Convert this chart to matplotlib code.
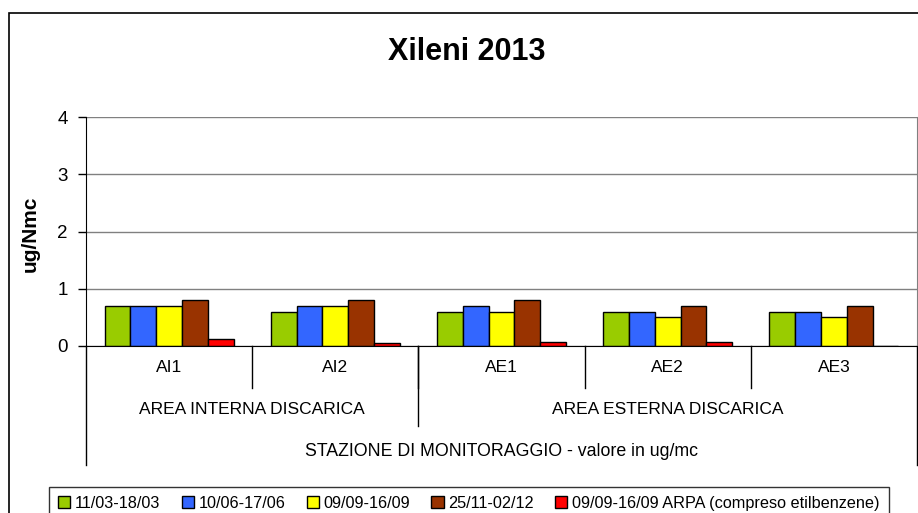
import numpy as np
import matplotlib
matplotlib.use("Agg")
import matplotlib.pyplot as plt
from matplotlib.patches import Rectangle, Patch
from matplotlib.transforms import blended_transform_factory

plt.rcParams['font.family'] = ['Liberation Sans', 'DejaVu Sans']

######################## DATA ########################
stations = ["AI1", "AI2", "AE1", "AE2", "AE3"]
areas = ["AREA INTERNA DISCARICA", "AREA ESTERNA DISCARICA"]
area_span = [(0, 1), (2, 4)]
outer_label = "STAZIONE DI MONITORAGGIO - valore in ug/mc"
series_labels = ["11/03-18/03", "10/06-17/06", "09/09-16/09", "25/11-02/12",
                 "09/09-16/09 ARPA (compreso etilbenzene)"]
series_colors = ["#99CC00", "#3366FF", "#FFFF00", "#993300", "#FF0000"]
v_mar = [0.7, 0.6, 0.6, 0.6, 0.6]
v_jun = [0.7, 0.7, 0.7, 0.6, 0.6]
v_sep = [0.7, 0.7, 0.6, 0.5, 0.5]
v_nov = [0.8, 0.8, 0.8, 0.7, 0.7]
v_arpa = [0.12, 0.05, 0.07, 0.07, 0.0]
yticks = [0, 1, 2, 3, 4]
title = "Xileni 2013"
ylabel = "ug/Nmc"
######################################################

W, H = 918, 513
fig = plt.figure(figsize=(W / 100, H / 100), dpi=100)

def fx(px):
    return px / W

def fy(py):
    return 1 - py / H

# outer chart border (runs off right and bottom)
fig.patches.append(Rectangle((fx(9), fy(540)), fx(930), fy(13) - fy(540),
                             transform=fig.transFigure, fill=False,
                             edgecolor="black", linewidth=1.2))

ax = fig.add_axes([fx(86), fy(346), fx(917) - fx(86), fy(117) - fy(346)])

series = [v_mar, v_jun, v_sep, v_nov, v_arpa]
x = np.arange(len(stations))
bw = 0.155
for i, vals in enumerate(series):
    ax.bar(x + (i - 2) * bw, vals, width=bw, color=series_colors[i],
           edgecolor="black", linewidth=1.0, zorder=3)

ax.set_xlim(-0.5, len(stations) - 0.5)
ax.set_ylim(0, 4)
ax.set_yticks(yticks)
ax.set_yticklabels([str(t) for t in yticks], fontsize=13.5)
ax.tick_params(axis="y", direction="out", length=6, width=1, pad=7)
ax.set_xticks([])
ax.grid(axis="y", color="#808080", linewidth=1.0, zorder=0)
ax.spines["top"].set_visible(False)
ax.spines["right"].set_color("#808080")
ax.spines["left"].set_color("black")
ax.spines["bottom"].set_color("black")
ax.spines["bottom"].set_zorder(4)

fig.text(fx(30), fy(234), ylabel, fontsize=15, fontweight="bold",
         rotation=90, ha="center", va="center")
fig.text(fx(467), fy(52), title, fontsize=22, fontweight="bold",
         ha="center", va="center")

# multi-level category axis
tr = blended_transform_factory(ax.transData, fig.transFigure)
lk = dict(color="black", linewidth=1.0, transform=tr, clip_on=False)
for b in np.arange(0.5, len(stations) - 0.5):
    ax.plot([b, b], [fy(346), fy(388)], **lk)
ax.plot([1.5, 1.5], [fy(346), fy(426)], **lk)
for b in [-0.5, len(stations) - 0.5]:
    ax.plot([b, b], [fy(346), fy(465)], **lk)

for i, s in enumerate(stations):
    ax.text(i, fy(367), s, transform=tr, ha="center", va="center", fontsize=12.5)
for a, (lo, hi) in zip(areas, area_span):
    ax.text((lo + hi) / 2, fy(409), a, transform=tr, ha="center",
            va="center", fontsize=12.5)
ax.text((len(stations) - 1) / 2, fy(452), outer_label, transform=tr,
        ha="center", va="center", fontsize=12.8)

handles = [Patch(facecolor=c, edgecolor="black", linewidth=1.0) for c in series_colors]
leg = fig.legend(handles, series_labels, ncol=5, loc="upper left",
                 bbox_to_anchor=(fx(49), fy(487)), frameon=True, fancybox=False,
                 edgecolor="black", handlelength=0.75, handleheight=0.75,
                 handletextpad=0.3, columnspacing=1.3, borderaxespad=0,
                 borderpad=0.55, fontsize=11.7)
leg.get_frame().set_linewidth(1.0)

fig.savefig("out.png", dpi=100)
